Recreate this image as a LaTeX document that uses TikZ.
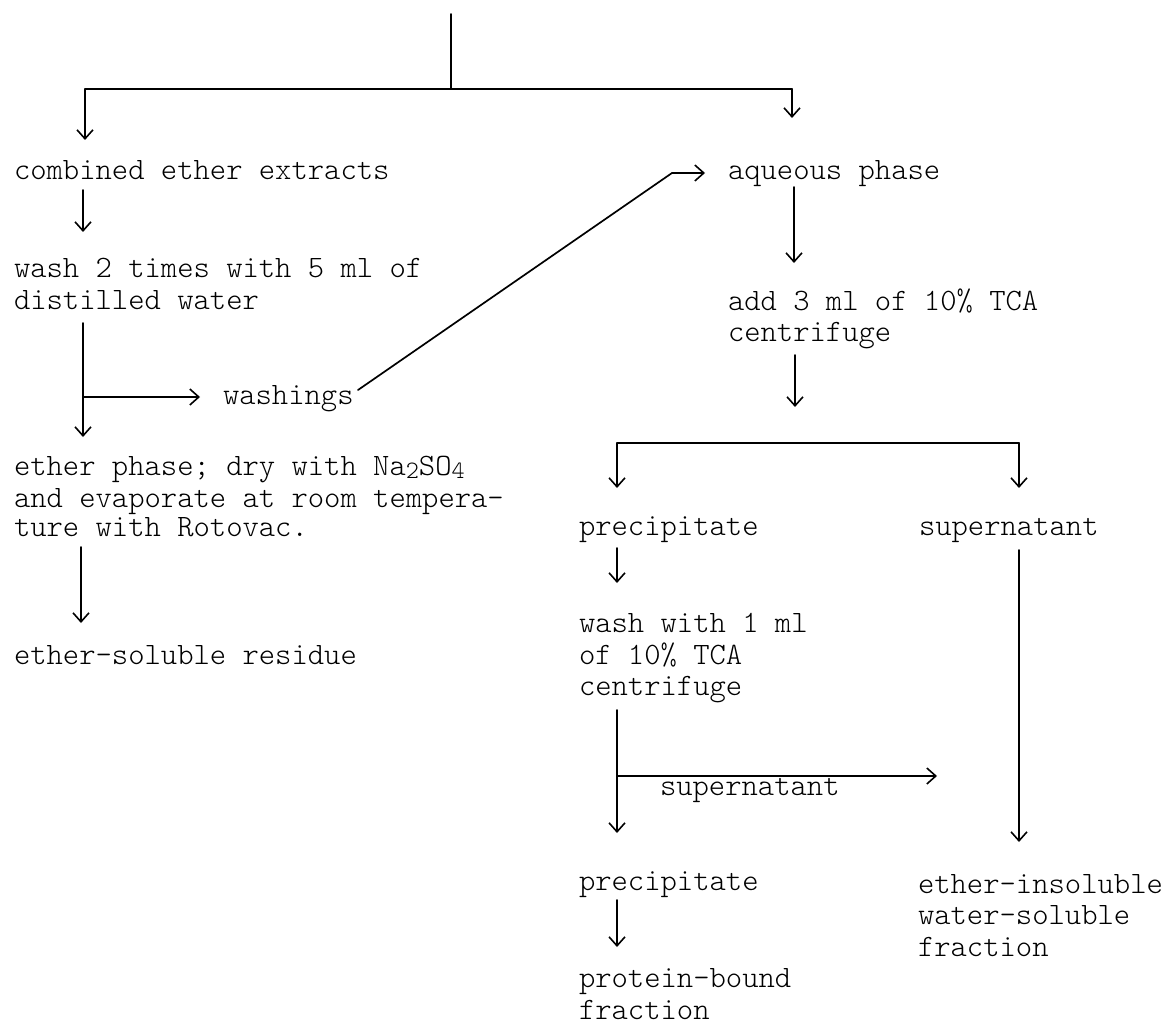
\documentclass[tikz,border=0pt]{standalone}
\usepackage{fontspec}
\newfontfamily\twfont{Latin Modern Mono Light}
\usetikzlibrary{arrows.meta}
\begin{document}
\begin{tikzpicture}[x=1pt,y=-1pt,
  txt/.style={anchor=base west,inner sep=0pt,outer sep=0pt,font=\twfont\fontsize{31.1}{31.5}\selectfont},
  ln/.style={line width=1.7pt,line cap=round},
  arr/.style={ln,-{Straight Barb[length=9pt,width=16pt,line width=1.6pt]}}]
\useasboundingbox (0,0) rectangle (1166,1024);
\newcommand{\subdig}[1]{\raisebox{-0.25ex}{\fontsize{25}{25}\selectfont #1}}
% texts, left column
\node[txt] (comb)  at (14,180) {combined ether extracts};
\node[txt] (wash1) at (14,277) {wash 2 times with 5 ml of};
\node[txt] (wash2) at (14,309) {distilled water};
\node[txt] (washings) at (223,404) {washings};
\node[txt] (eth1) at (14,475) {ether phase; dry with Na\subdig{2}SO\subdig{4}};
\node[txt] (eth2) at (14,507) {and evaporate at room tempera-};
\node[txt] (eth3) at (14,536) {ture with Rotovac.};
\node[txt] (res)  at (14,664) {ether-soluble residue};
% texts, right column
\node[txt] (aq)   at (728,180) {aqueous phase};
\node[txt] (add1) at (728,310) {add 3 ml of 10\% TCA};
\node[txt] (add2) at (728,341) {centrifuge};
\node[txt] (prec1) at (579,535) {precipitate};
\node[txt] (sup1)  at (919,535) {supernatant};
\node[txt] (w1) at (579,632) {wash with 1 ml};
\node[txt] (w2) at (579,664) {of 10\% TCA};
\node[txt] (w3) at (579,695) {centrifuge};
\node[txt] (suplab) at (660,795) {supernatant};
\node[txt] (prec2) at (579,890) {precipitate};
\node[txt] (pb1) at (579,987) {protein-bound};
\node[txt] (pb2) at (579,1019) {fraction};
\node[txt] (ei1) at (918,893) {ether-insoluble};
\node[txt] (ei2) at (918,924) {water-soluble};
\node[txt] (ei3) at (918,956) {fraction};
% coordinates
\coordinate (top) at (451,14);
\coordinate (sp) at (451,89);
\coordinate (spL) at (85,89);
\coordinate (spR) at (792,89);
\coordinate (combIn) at (85,140);
\coordinate (aqIn) at (792,118);
\coordinate (combOut) at (83,190);
\coordinate (washIn) at (83,232);
\coordinate (washOut) at (83,323);
\coordinate (ethIn) at (83,437);
\coordinate (br1) at (83,397);
\coordinate (washingsIn) at (200,397);
\coordinate (washingsOut) at (358,390);
\coordinate (bend) at (672,173);
\coordinate (aqSide) at (705,173);
\coordinate (aqOut) at (794,187);
\coordinate (addIn) at (794,263);
\coordinate (ethOut) at (81,547);
\coordinate (resIn) at (81,623);
\coordinate (addOut) at (795,355);
\coordinate (addEnd) at (795,407);
\coordinate (sp2L) at (617,443);
\coordinate (sp2R) at (1019,443);
\coordinate (prec1In) at (617,488);
\coordinate (sup1In) at (1019,488);
\coordinate (prec1Out) at (617,548);
\coordinate (wIn) at (617,583);
\coordinate (wOut) at (617,710);
\coordinate (prec2In) at (617,833);
\coordinate (br2) at (617,776);
\coordinate (br2End) at (937,776);
\coordinate (sup1Out) at (1019,550);
\coordinate (eiIn) at (1019,842);
\coordinate (prec2Out) at (617,900);
\coordinate (pbIn) at (617,947);
% connectors
\draw[ln] (top) -- (sp);
\draw[ln] (spL) -- (spR);
\draw[arr] (spL) -- (combIn);
\draw[arr] (spR) -- (aqIn);
\draw[arr] (combOut) -- (washIn);
\draw[arr] (washOut) -- (ethIn);
\draw[arr] (br1) -- (washingsIn);
\draw[arr] (washingsOut) -- (bend) -- (aqSide);
\draw[arr] (aqOut) -- (addIn);
\draw[arr] (ethOut) -- (resIn);
\draw[arr] (addOut) -- (addEnd);
\draw[ln] (sp2L) -- (sp2R);
\draw[arr] (sp2L) -- (prec1In);
\draw[arr] (sp2R) -- (sup1In);
\draw[arr] (prec1Out) -- (wIn);
\draw[arr] (wOut) -- (prec2In);
\draw[arr] (br2) -- (br2End);
\draw[arr] (sup1Out) -- (eiIn);
\draw[arr] (prec2Out) -- (pbIn);
\end{tikzpicture}
\end{document}
